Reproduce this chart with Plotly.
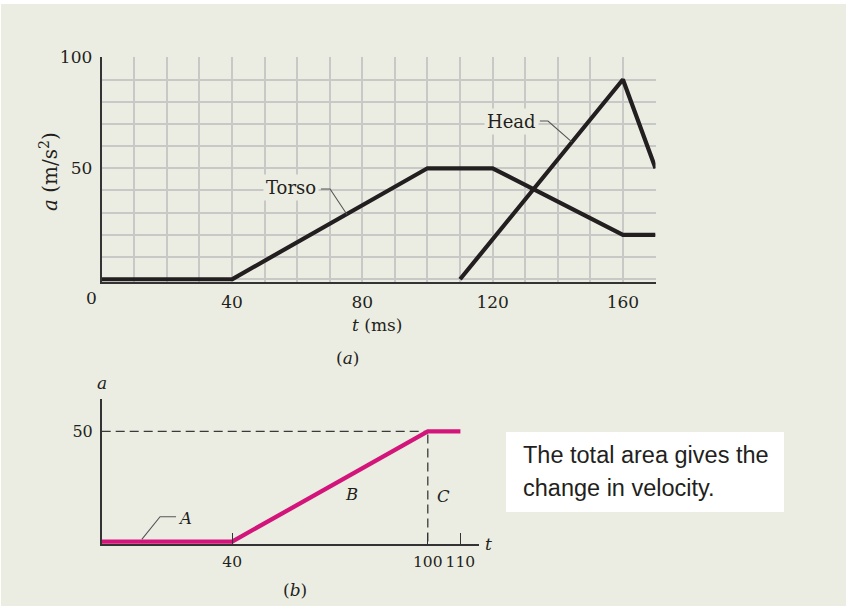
import plotly.graph_objects as go

W, H = 846, 606

# (a) measured acceleration curves
torso_t = [0, 40, 100, 120, 160, 170]
torso_a = [0, 0, 50, 50, 20, 20]
head_t = [110, 160, 170]
head_a = [0, 90, 50]
top_xlabels = [40, 80, 120, 160]
top_ylabels = [50, 100]

# (b) simplified torso curve used for the area estimate
model_t = [0, 40, 100, 110]
model_a = [0, 0, 50, 50]
model_xlabels = [40, 100, 110]
model_ylabels = [50]
peak_a = 50
peak_t = 100

BG = "#ecede2"
INK = "#231f20"
GRID = "#c8c8c6"
MAGENTA = "#d3147a"
SERIF = "DejaVu Serif"
SANS = "Liberation Sans"


def px(x):
    return x / W


def py(y):
    return 1 - y / H


fig = go.Figure()

# ---- panel (a)
fig.add_trace(go.Scatter(x=torso_t, y=torso_a, mode="lines",
                         line=dict(color=INK, width=4.2), xaxis="x", yaxis="y"))
fig.add_trace(go.Scatter(x=head_t, y=head_a, mode="lines",
                         line=dict(color=INK, width=4.2), xaxis="x", yaxis="y"))

# ---- panel (b): dashed guides at the peak, then the curve
fig.add_trace(go.Scatter(x=[0, peak_t], y=[peak_a, peak_a], mode="lines",
                         line=dict(color="#3a3a3a", width=1.3, dash="9px,5px"),
                         xaxis="x2", yaxis="y2"))
fig.add_trace(go.Scatter(x=[peak_t, peak_t], y=[0, peak_a], mode="lines",
                         line=dict(color="#3a3a3a", width=1.3, dash="9px,5px"),
                         xaxis="x2", yaxis="y2"))
fig.add_trace(go.Scatter(x=model_t, y=model_a, mode="lines",
                         line=dict(color=MAGENTA, width=4.3), xaxis="x2", yaxis="y2"))

grid_minor = dict(tickmode="linear", tick0=0, dtick=10, showgrid=True,
                  gridcolor=GRID, gridwidth=1.5, ticks="")

fig.update_layout(
    width=W, height=H,
    margin=dict(l=0, r=0, t=0, b=0, autoexpand=False),
    paper_bgcolor=BG, plot_bgcolor="rgba(0,0,0,0)",
    showlegend=False, hovermode=False,
    xaxis=dict(domain=[px(101.7), px(655.5)], range=[0, 170], anchor="y",
               tickmode="array", tickvals=top_xlabels,
               ticktext=[str(v) for v in top_xlabels], tickangle=0,
               showgrid=True, gridcolor=GRID, gridwidth=1.5, minor=grid_minor,
               showline=True, linecolor="#333333", linewidth=2,
               zeroline=False, ticks="", ticklabelstandoff=4,
               tickfont=dict(family=SERIF, size=17, color=INK)),
    yaxis=dict(domain=[py(281.5), py(57.3)], range=[-1, 100], anchor="x",
               tickmode="array", tickvals=top_ylabels,
               ticktext=[str(v) for v in top_ylabels],
               showgrid=True, gridcolor=GRID, gridwidth=1.5, minor=grid_minor,
               showline=True, linecolor="#333333", linewidth=2,
               zeroline=False, ticks="", ticklabelstandoff=4,
               tickfont=dict(family=SERIF, size=17, color=INK)),
    xaxis2=dict(domain=[px(101.7), px(479)], range=[0, 115.7], anchor="y2",
                tickmode="array", tickvals=model_xlabels,
                ticktext=[str(v) for v in model_xlabels], tickangle=0,
                showgrid=False, showline=True, linecolor="#333333", linewidth=1.5,
                zeroline=False, ticks="inside", ticklen=11, tickwidth=1.3,
                tickcolor="#333333", ticklabelstandoff=3,
                tickfont=dict(family=SERIF, size=15.5, color=INK)),
    yaxis2=dict(domain=[py(544), py(399.3)], range=[-1.1, 64.6], anchor="x2",
                tickmode="array", tickvals=model_ylabels,
                ticktext=[str(v) for v in model_ylabels],
                showgrid=False, showline=True, linecolor="#333333", linewidth=1.5,
                zeroline=False, ticks="", ticklabelstandoff=4,
                tickfont=dict(family=SERIF, size=16, color=INK)),
)

shapes = [
    # thin white frame at the top and left edges
    dict(type="rect", xref="paper", yref="paper", x0=0, x1=1, y0=py(4), y1=1,
         fillcolor="white", line=dict(width=0), layer="below"),
    dict(type="rect", xref="paper", yref="paper", x0=0, x1=px(1), y0=0, y1=1,
         fillcolor="white", line=dict(width=0), layer="below"),
    # callout box
    dict(type="rect", xref="paper", yref="paper", x0=px(506), x1=px(784),
         y0=py(512), y1=py(432), fillcolor="white", line=dict(width=0)),
    # leader lines for the curve labels
    dict(type="path", xref="x", yref="y",
         path="M 67.3 40.7 L 70.1 40.7 L 75.3 29.2",
         line=dict(color="#555555", width=1.1)),
    dict(type="path", xref="x", yref="y",
         path="M 134.5 71.3 L 137.0 71.3 L 144.3 61.9",
         line=dict(color="#555555", width=1.1)),
    dict(type="path", xref="x2", yref="y2",
         path="M 22.8 11.3 L 17.9 11.3 L 12.3 1.0",
         line=dict(color="#555555", width=1.1)),
]
fig.update_layout(shapes=shapes)


def label(text, x, y, size=17, family=SERIF, **kw):
    base = dict(text=text, xref="paper", yref="paper", x=px(x), y=py(y),
                showarrow=False, xanchor="center", yanchor="middle",
                font=dict(family=family, size=size, color=INK))
    base.update(kw)
    return base


annotations = [
    label("0", 91.7, 298),
    label("<i>t</i> (ms)", 377, 325),
    label("(<i>a</i>)", 347, 358),
    label("<i>a</i> (m/s<sup>2</sup>)", 49, 172, size=20, textangle=-90),
    label("Torso", 291, 187, size=18, bgcolor=BG, borderpad=2),
    label("Head", 511.7, 121.7, size=18, bgcolor=BG, borderpad=2),
    label("<i>a</i>", 102, 383),
    label("<i>t</i>", 488, 544),
    label("<i>A</i>", 185, 518, size=16.5),
    label("<i>B</i>", 351.7, 495, size=16.5),
    label("<i>C</i>", 443, 496, size=16.5),
    label("(<i>b</i>)", 295, 590),
    label("The total area gives the", 520.7, 455, size=23.5, family=SANS,
          xanchor="left"),
    label("change in velocity.", 520.7, 488, size=23.5, family=SANS,
          xanchor="left"),
]
fig.update_layout(annotations=annotations)

fig.write_html("out.html")
